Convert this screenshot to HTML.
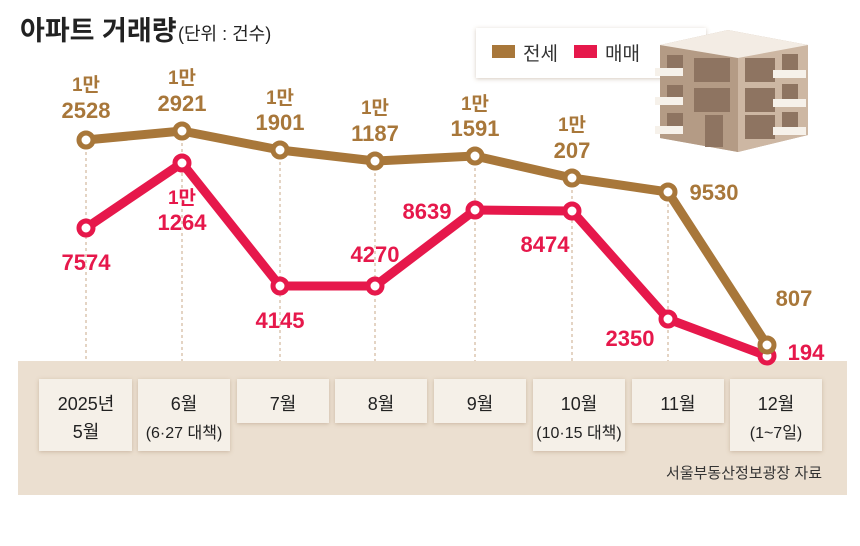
<!DOCTYPE html>
<html><head><meta charset="utf-8"><style>
html,body{margin:0;padding:0;background:#fff;}
svg text{font-family:"Liberation Sans","Noto Sans CJK KR",sans-serif;}
</style></head><body>
<svg width="860" height="541" viewBox="0 0 860 541" xmlns="http://www.w3.org/2000/svg">
<defs>
<filter id="sh" x="-20%" y="-20%" width="140%" height="140%"><feDropShadow dx="0" dy="1" stdDeviation="2" flood-color="#8a6a4a" flood-opacity="0.35"/></filter>
</defs>
<rect x="0" y="0" width="860" height="541" fill="#fff"/>
<text x="20" y="40" font-size="27" font-weight="bold" fill="#222">아파트 거래량</text>
<text x="178" y="40" font-size="18" fill="#222">(단위 : 건수)</text>
<!-- legend -->
<rect x="476" y="28" width="230" height="50" fill="#fff" filter="url(#sh)"/>
<rect x="492" y="45" width="23" height="13" fill="#a8773a"/>
<text x="523" y="60" font-size="19" fill="#333">전세</text>
<rect x="574" y="45" width="23" height="13" fill="#e6184b"/>
<text x="605" y="60" font-size="19" fill="#333">매매</text>
<!-- building -->
<g>
<polygon points="660,45 728,30 808,45 808,135 738,152 660,138" fill="#c2ab97"/>
<polygon points="660,45 738,58 738,152 660,138" fill="#b49b85"/>
<polygon points="738,58 808,45 808,135 738,152" fill="#cdb7a3"/>
<polygon points="660,45 728,30 808,45 738,58" fill="#f3ece4"/>
<g fill="#8e7461">
<rect x="667" y="55" width="16" height="20"/><rect x="694" y="58" width="36" height="24"/><rect x="745" y="58" width="30" height="24"/><rect x="782" y="54" width="16" height="20"/>
<rect x="667" y="85" width="16" height="20"/><rect x="694" y="88" width="36" height="24"/><rect x="745" y="88" width="30" height="24"/><rect x="782" y="84" width="16" height="20"/>
<rect x="667" y="113" width="16" height="18"/><rect x="705" y="115" width="18" height="32"/><rect x="745" y="115" width="30" height="24"/><rect x="782" y="112" width="16" height="18"/>
</g>
<g fill="#f6f1ea"><rect x="655" y="68" width="28" height="8"/><rect x="655" y="97" width="28" height="8"/><rect x="655" y="126" width="28" height="8"/>
<rect x="773" y="70" width="33" height="8"/><rect x="773" y="99" width="33" height="8"/><rect x="773" y="127" width="33" height="8"/></g>
</g>
<!-- panel -->
<rect x="18" y="361" width="829" height="134" fill="#ebdfd0"/>
<g stroke="#c9a98a" stroke-width="1" stroke-dasharray="3,3">
<line x1="86" y1="140" x2="86" y2="361"/><line x1="182" y1="131" x2="182" y2="361"/><line x1="280" y1="150" x2="280" y2="361"/><line x1="375" y1="161" x2="375" y2="361"/><line x1="475" y1="156" x2="475" y2="361"/><line x1="572" y1="178" x2="572" y2="361"/><line x1="668" y1="192" x2="668" y2="361"/>
</g>
<g fill="#f5f0e8" filter="url(#sh)">
<rect x="39" y="379" width="93" height="72"/><rect x="138" y="379" width="92" height="72"/>
<rect x="237" y="379" width="92" height="44"/><rect x="335" y="379" width="92" height="44"/>
<rect x="434" y="379" width="92" height="44"/><rect x="533" y="379" width="92" height="72"/>
<rect x="632" y="379" width="92" height="44"/><rect x="730" y="379" width="92" height="72"/>
</g>
<g font-size="18" fill="#222" text-anchor="middle">
<text x="86" y="410">2025년</text><text x="86" y="438">5월</text>
<text x="184" y="410">6월</text><text x="184" y="438" font-size="16">(6·27 대책)</text>
<text x="283" y="410">7월</text><text x="381" y="410">8월</text><text x="480" y="410">9월</text>
<text x="579" y="410">10월</text><text x="579" y="438" font-size="16">(10·15 대책)</text>
<text x="678" y="410">11월</text>
<text x="776" y="410">12월</text><text x="776" y="438" font-size="16">(1~7일)</text>
</g>
<text x="822" y="478" font-size="15" fill="#333" text-anchor="end">서울부동산정보광장 자료</text>
<!-- lines -->
<polyline points="86,140 182,131 280,150 375,161 475,156 572,178 668,192 767,345" fill="none" stroke="#a8773a" stroke-width="9" stroke-linejoin="round"/>
<polyline points="86,228 182,163 280,286 375,286 475,210 572,211 668,319 767,356" fill="none" stroke="#e6184b" stroke-width="9" stroke-linejoin="round"/>
<g fill="#fff" stroke="#a8773a" stroke-width="5">
<circle cx="86" cy="140" r="7"/><circle cx="182" cy="131" r="7"/><circle cx="280" cy="150" r="7"/><circle cx="375" cy="161" r="7"/><circle cx="475" cy="156" r="7"/><circle cx="572" cy="178" r="7"/><circle cx="668" cy="192" r="7"/>
</g>
<g fill="#fff" stroke="#e6184b" stroke-width="5">
<circle cx="86" cy="228" r="7"/><circle cx="182" cy="163" r="7"/><circle cx="280" cy="286" r="7"/><circle cx="375" cy="286" r="7"/><circle cx="475" cy="210" r="7"/><circle cx="572" cy="211" r="7"/><circle cx="668" cy="319" r="7"/><circle cx="767" cy="356" r="7"/>
</g>
<circle cx="767" cy="345" r="7" fill="#fff" stroke="#a8773a" stroke-width="5"/>
<g font-size="22" font-weight="bold" fill="#a8773a" text-anchor="middle">
<text x="86" y="91" font-size="19">1만</text><text x="86" y="118">2528</text>
<text x="182" y="84" font-size="19">1만</text><text x="182" y="111">2921</text>
<text x="280" y="104" font-size="19">1만</text><text x="280" y="130">1901</text>
<text x="375" y="114" font-size="19">1만</text><text x="375" y="141">1187</text>
<text x="475" y="110" font-size="19">1만</text><text x="475" y="136">1591</text>
<text x="572" y="131" font-size="19">1만</text><text x="572" y="158">207</text>
<text x="714" y="200">9530</text>
<text x="794" y="306">807</text>
</g>
<g font-size="22" font-weight="bold" fill="#e6184b" text-anchor="middle">
<text x="86" y="270">7574</text>
<text x="182" y="204" font-size="19">1만</text><text x="182" y="230">1264</text>
<text x="280" y="328">4145</text>
<text x="375" y="262">4270</text>
<text x="427" y="219">8639</text>
<text x="545" y="252">8474</text>
<text x="630" y="346">2350</text>
<text x="806" y="360">194</text>
</g>
</svg>
</body></html>
